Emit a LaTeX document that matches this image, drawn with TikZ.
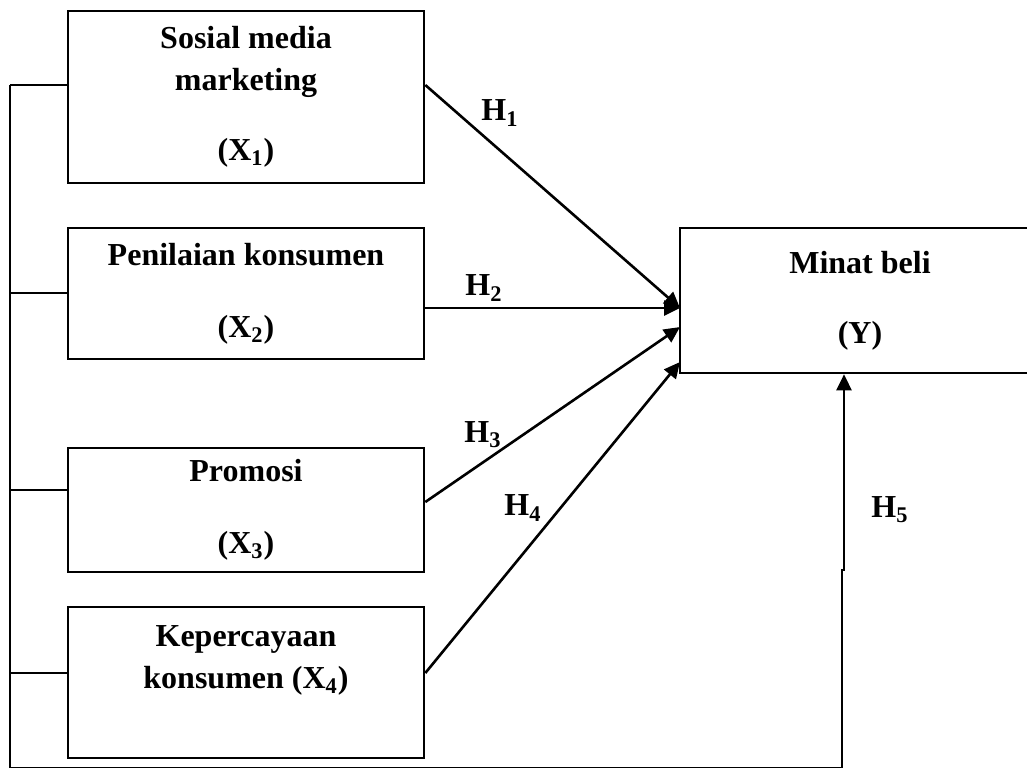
\documentclass[tikz,border=0pt]{standalone}
\usepackage{fontspec}
\setmainfont{Liberation Serif}
\usepackage{tikz}
\usetikzlibrary{arrows.meta, positioning, calc}

\begin{document}
\begin{tikzpicture}[
    x=0.5pt, y=-0.5pt,
    box/.style={rectangle, draw=black, line width=1.3pt, minimum width=178pt, align=center, inner sep=0pt, font=\bfseries\fontsize{16}{21}\selectfont},
    txt/.style={align=center, inner sep=0pt, font=\bfseries\fontsize{16}{21}\selectfont},
    conn/.style={line width=1.3pt},
    arrow/.style={-{Triangle[length=8pt, width=7.5pt]}, line width=1.3pt}
]
\useasboundingbox (0,0) rectangle (1027,767);

\node[box, minimum height=86pt] (x1) at (246,97) {Sosial media\\marketing\\[14pt](X\textsubscript{1})};
\node[box, minimum height=65.5pt] (x2) at (246,293.5) {Penilaian konsumen\\[15pt](X\textsubscript{2})};
\node[box, minimum height=62pt] (x3) at (246,510) {Promosi\\[15pt](X\textsubscript{3})};
\node[box, minimum height=75.5pt] (x4) at (246,682.5) {};
\node[txt] (x4txt) at (246,660) {Kepercayaan\\konsumen (X\textsubscript{4})};
\node[box, minimum width=180pt, minimum height=72.5pt] (y) at (860,300.5) {Minat beli\\[14pt](Y)};

\coordinate (s1) at (10,85);
\coordinate (s2) at (10,293);
\coordinate (s3) at (10,490);
\coordinate (s4) at (10,673);
\coordinate (sb) at (10,768);
\coordinate (t12) at (680,308);
\coordinate (t3) at (680,327);
\coordinate (t4) at (680,362);

\draw[conn] (s1) -- (s1 -| x1.west);
\draw[conn] (s2) -- (s2 -| x2.west);
\draw[conn] (s3) -- (s3 -| x3.west);
\draw[conn] (s4) -- (s4 -| x4.west);

\draw[arrow] (x1.east |- s1) -- (t12);
\draw[arrow] (x2.east |- t12) -- (t12);
\draw[arrow] ($(x3.east)+(0,-8)$) -- (t3);
\draw[arrow] (x4.east |- s4) -- (t4);
\draw[arrow] (s1) -- (sb) -- (842,768) -- (842,570) -- (844,570) -- (y.south -| 844,0);

\node[txt] (h1) at (500,113) {H\textsubscript{1}};
\node[txt] (h2) at (484,288) {H\textsubscript{2}};
\node[txt] (h3) at (483,435) {H\textsubscript{3}};
\node[txt] (h4) at (523,508) {H\textsubscript{4}};
\node[txt] (h5) at (890,510) {H\textsubscript{5}};

\end{tikzpicture}
\end{document}
